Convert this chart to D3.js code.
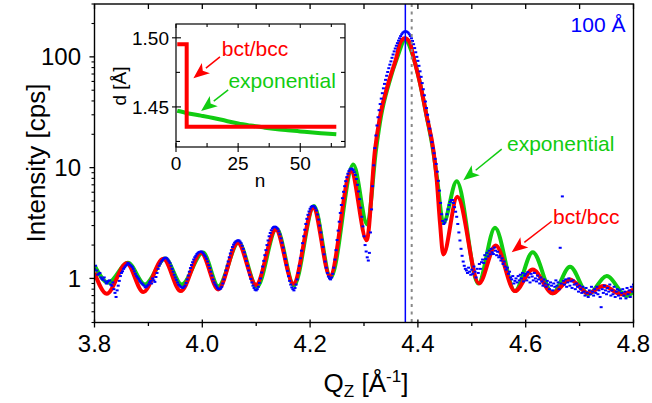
<!DOCTYPE html>
<html>
<head>
<meta charset="utf-8">
<script src="https://cdn.jsdelivr.net/npm/d3@7"></script>
<style>
  body { margin: 0; background: #fff; }
  svg text { font-family: "Liberation Sans", Arial, Helvetica, sans-serif; }
</style>
</head>
<body>
<script>
// measured scan: Q grid start / step, counts in cps (one row = 0.02 in Q)
var scanStart = 3.8, scanStep = 0.002;
var scanCounts = [
  1.22, 1.30, 1.18, 1.08, 1.10, 1.12, 1.02, 0.99, 0.97, 1.02,
  0.94, 0.90, 0.92, 0.95, 0.96, 0.88, 0.86, 0.92, 0.80, 0.74,
  0.68, 0.78, 0.86, 0.95, 1.05, 1.12, 1.16, 1.22, 1.26, 1.30,
  1.33, 1.38, 1.36, 1.32, 1.30, 1.27, 1.22, 1.16, 1.10, 1.05,
  1.02, 0.99, 0.95, 0.92, 0.90, 0.88, 0.86, 0.83, 0.84, 0.86,
  0.88, 0.92, 0.95, 0.90, 1.00, 0.96, 0.93, 1.03, 1.12, 1.22,
  1.30, 1.36, 1.42, 1.46, 1.50, 1.53, 1.54, 1.52, 1.48, 1.43,
  1.38, 1.30, 1.22, 1.15, 1.08, 1.02, 0.97, 0.92, 0.88, 0.86,
  0.84, 0.83, 0.82, 0.84, 0.86, 0.91, 0.98, 1.06, 1.15, 1.24,
  1.32, 1.40, 1.48, 1.55, 1.60, 1.66, 1.70, 1.73, 1.74, 1.75,
  1.72, 1.68, 1.62, 1.57, 1.50, 1.42, 1.32, 1.24, 1.15, 1.06,
  0.98, 0.92, 0.88, 0.85, 0.82, 0.80, 0.80, 0.81, 0.84, 0.90,
  0.98, 1.07, 1.18, 1.30, 1.42, 1.55, 1.68, 1.80, 1.92, 2.02,
  2.10, 2.15, 2.18, 2.21, 2.20, 2.15, 2.08, 1.97, 1.85, 1.72,
  1.58, 1.44, 1.30, 1.18, 1.08, 0.99, 0.92, 0.86, 0.82, 0.79,
  0.78, 0.80, 0.84, 0.91, 1.00, 1.13, 1.28, 1.44, 1.62, 1.80,
  2.00, 2.20, 2.40, 2.57, 2.72, 2.83, 2.90, 2.93, 2.92, 2.87,
  2.80, 2.66, 2.50, 2.30, 2.10, 1.90, 1.70, 1.50, 1.32, 1.17,
  1.05, 0.95, 0.88, 0.83, 0.80, 0.78, 0.82, 0.88, 0.98, 1.12,
  1.30, 1.52, 1.78, 2.08, 2.40, 2.75, 3.10, 3.45, 3.75, 4.02,
  4.25, 4.42, 4.50, 4.52, 4.45, 4.30, 4.10, 3.78, 3.40, 3.00,
  2.60, 2.24, 1.92, 1.65, 1.42, 1.25, 1.12, 1.04, 1.00, 0.98,
  1.02, 1.10, 1.25, 1.48, 1.80, 2.22, 2.70, 3.25, 3.90, 4.60,
  5.30, 6.05, 6.80, 7.55, 8.20, 8.80, 9.30, 9.65, 9.80, 9.75,
  9.50, 9.10, 8.60, 7.90, 7.00, 6.10, 5.20, 4.35, 3.60, 2.95,
  2.40, 2.00, 1.75, 1.55, 1.45, 1.70, 2.60, 4.20, 6.80, 10.5,
  15, 19.5, 24, 28.5, 33, 37.5, 42, 47, 52, 57,
  62, 67.5, 73, 79, 85, 91, 98, 105, 112, 119,
  126, 133, 140, 147, 154, 160, 165, 168, 170, 170,
  168, 165, 160, 154, 147, 139, 130, 120, 110, 100,
  92, 83, 74, 66, 58, 51, 45, 39.5, 34.5, 30,
  26, 22.5, 19.5, 17, 15, 13.5, 12, 10.8, 9.2, 7.6,
  6.2, 4.8, 3.8, 3.3, 3.1, 3.2, 3.4, 3.8, 4.2, 4.6,
  4.9, 5.1, 5.1, 4.8, 4.4, 4.0, 3.6, 3.1, 2.6, 2.2,
  1.85, 1.60, 1.42, 1.30, 1.22, 1.18, 1.12, 1.25, 1.15, 1.08,
  1.20, 1.10, 1.28, 1.15, 1.02, 1.22, 1.12, 1.35, 1.22, 1.40,
  1.48, 1.38, 1.62, 1.50, 1.70, 1.58, 1.78, 1.65, 1.85, 1.72,
  1.66, 1.90, 1.78, 1.62, 1.74, 1.55, 1.60, 1.45, 1.52, 1.35,
  1.42, 1.28, 1.20, 1.25, 1.10, 1.15, 1.02, 0.98, 1.05, 0.90,
  0.95, 1.00, 0.92, 1.05, 0.96, 1.08, 1.00, 1.12, 0.94, 1.06,
  1.10, 0.96, 1.14, 1.02, 0.92, 1.10, 1.04, 0.96, 1.12, 1.00,
  0.94, 1.06, 0.98, 0.90, 1.02, 0.94, 0.86, 0.98, 0.90, 0.84,
  0.95, 0.88, 0.80, 0.92, 0.86, 0.78, 0.90, 0.84, 0.96, 0.86,
  0.92, 0.80, 1.89, 0.90, 5.5, 0.95, 0.88, 0.98, 0.84, 0.92,
  1.00, 0.86, 0.94, 0.82, 0.96, 0.88, 0.80, 0.90, 0.84, 0.76,
  0.86, 0.80, 0.74, 0.84, 0.76, 0.70, 0.82, 0.74, 0.68, 0.78,
  0.72, 0.84, 0.76, 0.70, 0.80, 0.74, 0.84, 0.72, 0.78, 0.68,
  0.55, 0.80, 0.74, 0.86, 0.78, 0.72, 0.82, 0.76, 0.88, 0.70,
  0.78, 0.72, 0.84, 0.68, 0.76, 0.80, 0.70, 0.78, 0.66, 0.74,
  0.80, 0.70, 0.76, 0.66, 0.82, 0.72, 0.78, 0.68, 0.84, 0.76,
  0.88
];

// bct/bcc model fit
var bccQ = [3.800, 3.8226, 3.8597, 3.8905, 3.9276, 3.960, 3.9976, 4.0297, 4.0657, 4.0996,
            4.1362, 4.1689, 4.2059, 4.2369, 4.2759, 4.305, 4.3204, 4.3297, 4.3451, 4.3606,
            4.3668, 4.3761, 4.3854, 4.3915, 4.4039, 4.4163, 4.4286, 4.4349, 4.441, 4.4471,
            4.4731, 4.5134, 4.5443, 4.5801, 4.613, 4.650, 4.6822, 4.7161, 4.744, 4.7781, 4.800];
var bccI = [1.125, 0.728, 1.37, 0.753, 1.504, 0.768, 1.705, 0.796, 2.096, 0.874,
            2.765, 0.896, 4.33, 1.049, 9.27, 2.21, 14.5, 29.0, 57.9, 100.7,
            133, 147, 133, 100.7, 57.9, 29.0, 14.5, 7.8, 3.17, 1.645,
            5.45, 0.901, 1.98, 0.768, 1.205, 0.733, 0.98, 0.733, 0.852, 0.718, 0.796];

// exponential model fit
var expQ = [3.800, 3.8256, 3.862, 3.8937, 3.931, 3.9618, 4.0013, 4.0297, 4.0672, 4.1015,
            4.1377, 4.1701, 4.2072, 4.2382, 4.2801, 4.3061, 4.3223, 4.3315, 4.3464, 4.3621,
            4.3761, 4.3915, 4.4039, 4.4163, 4.428, 4.4354, 4.4471,
            4.472, 4.512, 4.543, 4.580, 4.613, 4.650, 4.6822, 4.7161, 4.7503, 4.7874, 4.800];
var expI = [1.31, 0.915, 1.385, 0.883, 1.51, 0.883, 1.71, 0.85, 2.11, 0.838,
            2.82, 0.865, 4.5, 1.015, 10.66, 3.07, 14.5, 29.0, 57.9, 100,
            142, 100, 57.9, 29.0, 14.5, 8.1, 3.17,
            7.52, 0.90, 2.86, 0.77, 1.725, 0.733, 1.274, 0.718, 1.049, 0.693, 0.77];

var braggQ = 4.3767, bulkQ = 4.3885;

// inset: layer spacing d(n)
var insetBccN = [0.5, 4.3, 4.3, 64.5];
var insetBccD = [1.4954, 1.4954, 1.4357, 1.4357];
var insetExpN = [0.5, 5, 10, 15, 20, 25, 30, 35, 40, 45, 50, 55, 60, 64.5];
var insetExpD = [1.4472, 1.4453, 1.4437, 1.4420, 1.4400, 1.4380, 1.4365, 1.4352,
                 1.4340, 1.4331, 1.4323, 1.4315, 1.4308, 1.4302];

var xMajor = [3.8, 4.0, 4.2, 4.4, 4.6, 4.8];
var xMinor = [3.9, 4.1, 4.3, 4.5, 4.7];
var yMajor = [1, 10, 100];
var yMinor = [0.4, 0.5, 0.6, 0.7, 0.8, 0.9, 2, 3, 4, 5, 6, 7, 8, 9,
              20, 30, 40, 50, 60, 70, 80, 90, 200, 300];
var insetXMajor = [0, 25, 50];
var insetXMinor = [12.5, 37.5, 62.5];
var insetYMajor = [1.45, 1.50];
var insetYMinor = [1.425, 1.475];

var width = 652, height = 403;
var red = "#ff0000", green = "#11cc11", blue = "#0000ff";

var svg = d3.select("body").append("svg")
    .attr("width", width)
    .attr("height", height);

var x = d3.scaleLinear().domain([3.8, 4.8]).range([94.5, 633.5]);
var y = d3.scaleLog().domain([0.4, 300]).range([322.5, 4]);
var L = x.range()[0], R = x.range()[1], T = y.range()[1], B = y.range()[0];

svg.append("clipPath").attr("id", "clip")
  .append("rect").attr("x", L).attr("y", T).attr("width", R - L).attr("height", B - T);

var plot = svg.append("g").attr("clip-path", "url(#clip)");

var line = d3.line()
    .x(function(d) { return x(d[0]); })
    .y(function(d) { return y(d[1]); })
    .curve(d3.curveMonotoneX);

plot.append("path").datum(d3.zip(expQ, expI))
    .attr("d", line).attr("fill", "none")
    .attr("stroke", green).attr("stroke-width", 4).attr("stroke-linejoin", "round");
plot.append("path").datum(d3.zip(bccQ, bccI))
    .attr("d", line).attr("fill", "none")
    .attr("stroke", red).attr("stroke-width", 4).attr("stroke-linejoin", "round");

// measured points
plot.append("g").selectAll("rect")
    .data(scanCounts)
    .enter().append("rect")
    .attr("x", function(d, i) { return x(scanStart + i * scanStep) - 1.5; })
    .attr("y", function(d) { return y(d) - 1; })
    .attr("width", 3).attr("height", 2)
    .attr("fill", blue);

// reference positions
plot.append("line")
    .attr("x1", x(bulkQ)).attr("x2", x(bulkQ)).attr("y1", T).attr("y2", B)
    .attr("stroke", "#888").attr("stroke-width", 2).attr("stroke-dasharray", "3,4.5");
plot.append("line")
    .attr("x1", x(braggQ)).attr("x2", x(braggQ)).attr("y1", T).attr("y2", B)
    .attr("stroke", blue).attr("stroke-width", 1.5);

// axes
var axes = svg.append("g").attr("stroke", "#000");
xMajor.forEach(function(v) {
  axes.append("line").attr("x1", x(v)).attr("x2", x(v)).attr("y1", B - 3).attr("y2", B + 5).attr("stroke-width", 1.3);
  axes.append("line").attr("x1", x(v)).attr("x2", x(v)).attr("y1", T).attr("y2", T + 5).attr("stroke-width", 1.3);
});
xMinor.forEach(function(v) {
  axes.append("line").attr("x1", x(v)).attr("x2", x(v)).attr("y1", B).attr("y2", B + 3.5).attr("stroke-width", 1.3);
  axes.append("line").attr("x1", x(v)).attr("x2", x(v)).attr("y1", T).attr("y2", T + 5).attr("stroke-width", 1.3);
});
yMajor.forEach(function(v) {
  axes.append("line").attr("x1", L - 5).attr("x2", L).attr("y1", y(v)).attr("y2", y(v)).attr("stroke-width", 1.3);
});
yMinor.forEach(function(v) {
  axes.append("line").attr("x1", L - 3).attr("x2", L).attr("y1", y(v)).attr("y2", y(v)).attr("stroke-width", 1.1);
});
svg.append("rect").attr("x", L).attr("y", T).attr("width", R - L).attr("height", B - T)
    .attr("fill", "none").attr("stroke", "#000").attr("stroke-width", 1.4);

svg.append("g").selectAll("text").data(xMajor).enter().append("text")
    .attr("x", function(d) { return x(d); }).attr("y", 352)
    .attr("text-anchor", "middle").attr("font-size", 24)
    .text(function(d) { return d.toFixed(1); });
svg.append("g").selectAll("text").data(yMajor).enter().append("text")
    .attr("x", 81).attr("y", function(d) { return y(d); }).attr("dy", "0.36em")
    .attr("text-anchor", "end").attr("font-size", 24)
    .text(function(d) { return d; });

var xt = svg.append("text").attr("x", 366).attr("y", 392).attr("text-anchor", "middle").attr("font-size", 26);
xt.append("tspan").text("Q");
xt.append("tspan").attr("font-size", 17).attr("dy", 5).text("Z");
xt.append("tspan").attr("dy", -5).text(" [Å");
xt.append("tspan").attr("font-size", 17).attr("dy", -10).text("-1");
xt.append("tspan").attr("dy", 10).text("]");

svg.append("text").attr("transform", "translate(45,163) rotate(-90)")
    .attr("text-anchor", "middle").attr("font-size", 26).text("Intensity [cps]");

svg.append("text").attr("x", R - 8).attr("y", 32).attr("text-anchor", "end")
    .attr("font-size", 21).attr("fill", blue).text("100 Å");

// annotation arrows
function arrow(g, x1, y1, x2, y2, color) {
  var a = Math.atan2(y2 - y1, x2 - x1), hl = 16, hw = 6.5;
  var bx = x2 - hl * Math.cos(a), by = y2 - hl * Math.sin(a);
  g.append("line").attr("x1", x1).attr("y1", y1).attr("x2", bx).attr("y2", by)
      .attr("stroke", color).attr("stroke-width", 1.5);
  g.append("path")
      .attr("d", "M" + x2 + "," + y2 +
                 "L" + (bx + hw * Math.sin(a)) + "," + (by - hw * Math.cos(a)) +
                 "L" + (bx + 4 * Math.cos(a)) + "," + (by + 4 * Math.sin(a)) +
                 "L" + (bx - hw * Math.sin(a)) + "," + (by + hw * Math.cos(a)) + "Z")
      .attr("fill", color);
}

var notes = svg.append("g");
arrow(notes, x(4.5555), y(14.7), x(4.4842), y(7.68), green);
arrow(notes, x(4.6482), y(3.28), x(4.574), y(1.726), red);
notes.append("text").attr("x", x(4.5653)).attr("y", y(14.2)).attr("font-size", 21)
    .attr("fill", green).text("exponential");
notes.append("text").attr("x", x(4.6507)).attr("y", y(3.13)).attr("font-size", 21)
    .attr("fill", red).text("bct/bcc");

// inset
var ix = d3.scaleLinear().domain([0, 68]).range([176, 345]);
var iy = d3.scaleLinear().domain([1.421, 1.510]).range([147, 24]);
var iL = 176, iR = 345, iT = 24, iB = 147;
var inset = svg.append("g");
inset.append("rect").attr("x", iL).attr("y", iT).attr("width", iR - iL).attr("height", iB - iT)
    .attr("fill", "#fff");

var iline = d3.line()
    .x(function(d) { return ix(d[0]); })
    .y(function(d) { return iy(d[1]); });
inset.append("path").datum(d3.zip(insetExpN, insetExpD))
    .attr("d", iline.curve(d3.curveMonotoneX)).attr("fill", "none")
    .attr("stroke", green).attr("stroke-width", 4);
inset.append("path").datum(d3.zip(insetBccN, insetBccD))
    .attr("d", iline.curve(d3.curveLinear)).attr("fill", "none")
    .attr("stroke", red).attr("stroke-width", 4).attr("stroke-linejoin", "miter");

var iax = inset.append("g").attr("stroke", "#000").attr("stroke-width", 1.1);
insetXMajor.forEach(function(v) {
  iax.append("line").attr("x1", ix(v)).attr("x2", ix(v)).attr("y1", iB - 4).attr("y2", iB + 5);
  iax.append("line").attr("x1", ix(v)).attr("x2", ix(v)).attr("y1", iT).attr("y2", iT + 4);
});
insetXMinor.forEach(function(v) {
  iax.append("line").attr("x1", ix(v)).attr("x2", ix(v)).attr("y1", iB - 4).attr("y2", iB);
  iax.append("line").attr("x1", ix(v)).attr("x2", ix(v)).attr("y1", iT).attr("y2", iT + 3);
});
insetYMajor.forEach(function(v) {
  iax.append("line").attr("x1", iL - 4).attr("x2", iL + 5).attr("y1", iy(v)).attr("y2", iy(v));
  iax.append("line").attr("x1", iR - 5).attr("x2", iR).attr("y1", iy(v)).attr("y2", iy(v));
});
insetYMinor.forEach(function(v) {
  iax.append("line").attr("x1", iL).attr("x2", iL + 4).attr("y1", iy(v)).attr("y2", iy(v));
  iax.append("line").attr("x1", iR - 4).attr("x2", iR).attr("y1", iy(v)).attr("y2", iy(v));
});
inset.append("rect").attr("x", iL).attr("y", iT).attr("width", iR - iL).attr("height", iB - iT)
    .attr("fill", "none").attr("stroke", "#000").attr("stroke-width", 1.2);

inset.append("g").selectAll("text").data(insetXMajor).enter().append("text")
    .attr("x", function(d) { return ix(d); }).attr("y", 170)
    .attr("text-anchor", "middle").attr("font-size", 19)
    .text(function(d) { return d; });
inset.append("g").selectAll("text").data(insetYMajor).enter().append("text")
    .attr("x", 169).attr("y", function(d) { return iy(d); }).attr("dy", "0.36em")
    .attr("text-anchor", "end").attr("font-size", 19)
    .text(function(d) { return d.toFixed(2); });
inset.append("text").attr("x", 260).attr("y", 187).attr("text-anchor", "middle")
    .attr("font-size", 19).text("n");
inset.append("text").attr("transform", "translate(126,86) rotate(-90)")
    .attr("text-anchor", "middle").attr("font-size", 19).text("d [Å]");

arrow(inset, ix(17.7), iy(1.4862), ix(7.0), iy(1.4708), red);
arrow(inset, ix(21), iy(1.4623), ix(10.1), iy(1.4471), green);
inset.append("text").attr("x", ix(18.4)).attr("y", iy(1.487)).attr("font-size", 21)
    .attr("fill", red).text("bct/bcc");
inset.append("text").attr("x", ix(21.1)).attr("y", iy(1.4638)).attr("font-size", 21)
    .attr("fill", green).text("exponential");
</script>
</body>
</html>
